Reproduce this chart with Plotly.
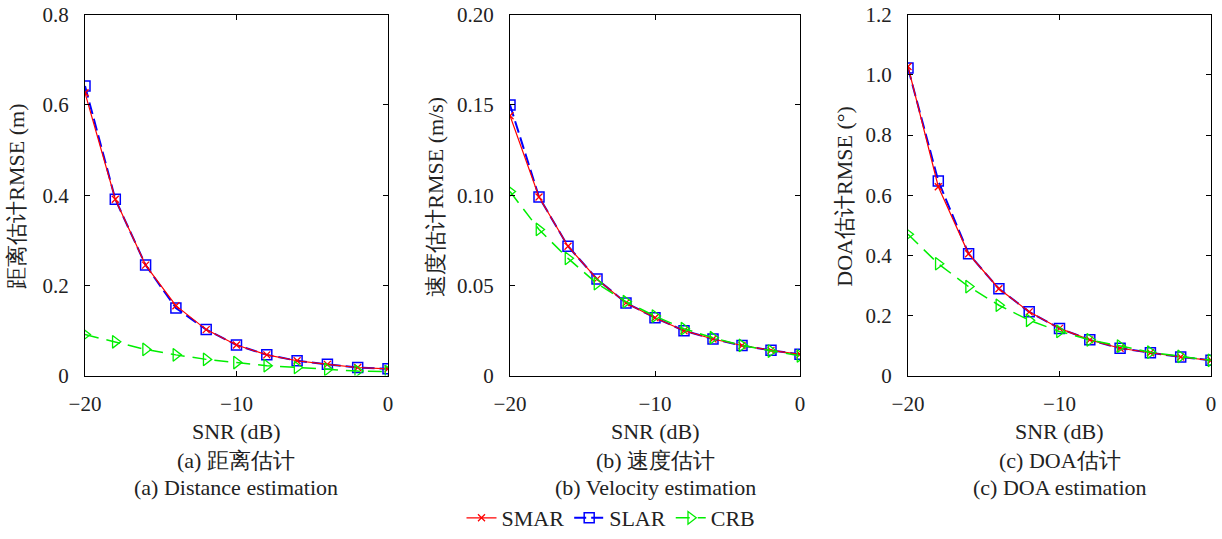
import plotly.graph_objects as go
from plotly.subplots import make_subplots

snr = [-20, -18, -16, -14, -12, -10, -8, -6, -4, -2, 0]

# (a) distance
dist_smar = [0.627, 0.391, 0.245, 0.155, 0.102, 0.068, 0.046, 0.033, 0.025, 0.018, 0.015]
dist_slar = [0.642, 0.391, 0.245, 0.150, 0.102, 0.068, 0.046, 0.033, 0.025, 0.018, 0.015]
dist_crb = [0.091, 0.075, 0.058, 0.046, 0.036, 0.029, 0.022, 0.018, 0.014, 0.010, 0.009]

# (b) velocity
vel_smar = [0.144, 0.099, 0.0717, 0.0535, 0.0403, 0.0321, 0.0249, 0.0203, 0.0167, 0.0140, 0.0118]
vel_slar = [0.150, 0.099, 0.0717, 0.0535, 0.0403, 0.0321, 0.0249, 0.0203, 0.0167, 0.0140, 0.0118]
vel_crb = [0.102, 0.081, 0.065, 0.051, 0.041, 0.033, 0.026, 0.021, 0.0167, 0.0136, 0.0109]

# (c) DOA
doa_smar = [1.028, 0.628, 0.405, 0.289, 0.212, 0.157, 0.119, 0.091, 0.076, 0.062, 0.051]
doa_slar = [1.023, 0.647, 0.405, 0.289, 0.212, 0.157, 0.119, 0.091, 0.076, 0.062, 0.051]
doa_crb = [0.470, 0.372, 0.296, 0.234, 0.184, 0.147, 0.119, 0.098, 0.078, 0.064, 0.051]

y_titles = ["距离估计RMSE (m)", "速度估计RMSE (m/s)", "DOA估计RMSE (°)"]
captions_cn = ["(a) 距离估计", "(b) 速度估计", "(c) DOA估计"]
captions_en = ["(a) Distance estimation", "(b) Velocity estimation", "(c) DOA estimation"]
y_ranges = [[0, 0.8], [0, 0.2], [0, 1.2]]
y_tickvals = [[0, 0.2, 0.4, 0.6, 0.8], [0, 0.05, 0.10, 0.15, 0.20], [0, 0.2, 0.4, 0.6, 0.8, 1.0, 1.2]]
y_ticktext = [["0", "0.2", "0.4", "0.6", "0.8"], ["0", "0.05", "0.10", "0.15", "0.20"],
              ["0", "0.2", "0.4", "0.6", "0.8", "1.0", "1.2"]]
x_tickvals = [-20, -10, 0]
x_ticktext = ["\u221220", "\u221210", "0"]

W, H = 1222, 539
FONT = "Liberation Serif"
FS = 22
TFS = 21
TXT = "#222222"

# panel pixel boxes
xbox = [(85, 388), (510, 800), (908, 1211)]
ytop, ybot = 15, 382
ytitle_x = [17, 436, 845]

fig = make_subplots(rows=1, cols=3)

RED, BLUE, GREEN = "#ff0000", "#0000ff", "#00ee00"
series = [
    (dist_smar, dist_slar, dist_crb),
    (vel_smar, vel_slar, vel_crb),
    (doa_smar, doa_slar, doa_crb),
]

for i, (smar, slar, crb) in enumerate(series):
    show = i == 0
    fig.add_trace(go.Scatter(
        x=snr, y=slar, name="SLAR", mode="lines+markers", legendrank=2, showlegend=show,
        line=dict(color=BLUE, width=2, dash="12px,5px"),
        marker=dict(symbol="square-open", size=10, color=BLUE, line=dict(width=1.5, color=BLUE)),
    ), row=1, col=i + 1)
    fig.add_trace(go.Scatter(
        x=snr, y=smar, name="SMAR", mode="lines+markers", legendrank=1, showlegend=show,
        line=dict(color=RED, width=1.2),
        marker=dict(symbol="x-thin-open", size=7, color=RED, line=dict(width=1.3, color=RED)),
    ), row=1, col=i + 1)
    fig.add_trace(go.Scatter(
        x=snr, y=crb, name="CRB", mode="lines+markers", legendrank=3, showlegend=show,
        line=dict(color=GREEN, width=1.5, dash="14px,8px"),
        marker=dict(symbol="triangle-right-open", size=11, color=GREEN, line=dict(width=1.3, color=GREEN)),
    ), row=1, col=i + 1)

    ax = "" if i == 0 else str(i + 1)
    x0, x1 = xbox[i]
    fig.layout["xaxis" + ax].update(
        domain=[x0 / W, x1 / W], range=[-20, 0], tickvals=x_tickvals, ticktext=x_ticktext,
        showgrid=False, zeroline=False, showline=True, linecolor="black", linewidth=1,
        mirror="ticks", ticks="inside", ticklen=5, tickcolor="black", ticklabelstandoff=9,
        tickfont=dict(family=FONT, size=TFS, color=TXT), automargin=False,
    )
    fig.layout["yaxis" + ax].update(
        domain=[1 - ybot / H, 1 - ytop / H], range=y_ranges[i],
        tickvals=y_tickvals[i], ticktext=y_ticktext[i],
        showgrid=False, zeroline=False, showline=True, linecolor="black", linewidth=1,
        mirror="ticks", ticks="inside", ticklen=5, tickcolor="black", ticklabelstandoff=11,
        tickfont=dict(family=FONT, size=TFS, color=TXT), automargin=False,
    )
    cx = (x0 + x1) / 2 / W
    fig.add_annotation(x=cx, y=1 - 439 / H, xref="paper", yref="paper", text="SNR (dB)",
                       showarrow=False, font=dict(family=FONT, size=FS, color=TXT),
                       xanchor="center", yanchor="middle")
    fig.add_annotation(x=cx, y=1 - 468 / H, xref="paper", yref="paper", text=captions_cn[i],
                       showarrow=False, font=dict(family=FONT, size=FS, color=TXT),
                       xanchor="center", yanchor="middle")
    fig.add_annotation(x=cx, y=1 - 496 / H, xref="paper", yref="paper", text=captions_en[i],
                       showarrow=False, font=dict(family=FONT, size=FS, color=TXT),
                       xanchor="center", yanchor="middle")
    fig.add_annotation(x=ytitle_x[i] / W, y=1 - 200 / H, xref="paper", yref="paper", text=y_titles[i],
                       textangle=-90, showarrow=False, font=dict(family=FONT, size=FS, color=TXT),
                       xanchor="center", yanchor="middle")

fig.update_layout(
    width=W, height=H, margin=dict(l=0, r=0, t=0, b=0),
    paper_bgcolor="white", plot_bgcolor="white",
    font=dict(family=FONT, size=FS, color=TXT),
    legend=dict(orientation="h", x=0.5, xanchor="center", y=1 - 527 / H, yanchor="middle",
                font=dict(family=FONT, size=FS, color=TXT), bgcolor="rgba(0,0,0,0)",
                itemwidth=30, tracegroupgap=0),
)

fig.write_html("out.html")
